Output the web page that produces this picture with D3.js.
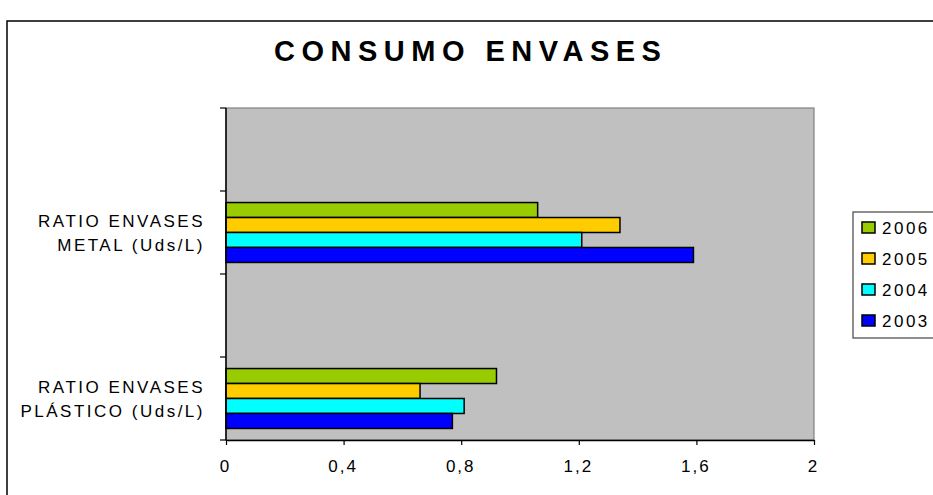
<!DOCTYPE html>
<html>
<head>
<meta charset="utf-8">
<script src="https://cdn.jsdelivr.net/npm/d3@7"></script>
<style>
  html, body { margin: 0; padding: 0; background: #fff; }
  svg { display: block; font-family: Arial, "Liberation Sans", sans-serif; }
</style>
</head>
<body>
<svg id="chart" width="933" height="495"></svg>
<script>
// Category rows, top to bottom (two empty rows as in the sheet)
const categoryLines = [
  [],
  ["RATIO ENVASES", "METAL  (Uds/L)"],
  [],
  ["RATIO ENVASES", "PLÁSTICO (Uds/L)"]
];
// Series, listed top to bottom inside each group
const years = ["2006", "2005", "2004", "2003"];
const seriesColors = ["#99CC00", "#FFCC00", "#00FFFF", "#0000FF"];
// Values per row (null = no data in that row)
const values2006 = [null, 1.06, null, 0.92];
const values2005 = [null, 1.34, null, 0.66];
const values2004 = [null, 1.21, null, 0.81];
const values2003 = [null, 1.59, null, 0.77];
const xTicks = [0, 0.4, 0.8, 1.2, 1.6, 2];
const xTickLabels = ["0", "0,4", "0,8", "1,2", "1,6", "2"];
const titleText = "CONSUMO ENVASES";

const seriesValues = [values2006, values2005, values2004, values2003];

const svg = d3.select("#chart");

// outer chart frame
svg.append("rect")
  .attr("x", 7).attr("y", 21).attr("width", 1000).attr("height", 1000)
  .attr("fill", "#fff").attr("stroke", "#000").attr("stroke-width", 1.5);

const plot = { left: 226, right: 814, top: 108, bottom: 440 };

const x = d3.scaleLinear().domain([0, 2]).range([plot.left, plot.right]);
const y = d3.scaleBand().domain(d3.range(categoryLines.length)).range([plot.top, plot.bottom]);
const yInner = d3.scaleBand().domain(years).range([0, y.bandwidth()])
  .paddingInner(0).paddingOuter(0.77);

// plot background
svg.append("rect")
  .attr("x", plot.left).attr("y", plot.top)
  .attr("width", plot.right - plot.left).attr("height", plot.bottom - plot.top)
  .attr("fill", "#C0C0C0").attr("stroke", "#808080").attr("stroke-width", 1.2);

// bars
const rows = [];
years.forEach((yr, si) => {
  seriesValues[si].forEach((v, ci) => {
    if (v != null) rows.push({ year: yr, cat: ci, value: v, color: seriesColors[si] });
  });
});
svg.append("g").selectAll("rect").data(rows).join("rect")
  .attr("x", x(0))
  .attr("y", d => y(d.cat) + yInner(d.year))
  .attr("width", d => x(d.value) - x(0))
  .attr("height", yInner.bandwidth())
  .attr("fill", d => d.color)
  .attr("stroke", "#000").attr("stroke-width", 1.5);

// x axis
const xAxis = svg.append("g")
  .attr("transform", `translate(0,${plot.bottom})`)
  .call(d3.axisBottom(x).tickValues(xTicks).tickFormat((d, i) => xTickLabels[i])
    .tickSize(5).tickSizeOuter(0).tickPadding(15));
xAxis.select(".domain").attr("stroke", "#000").attr("stroke-width", 1.5);
xAxis.selectAll(".tick line").attr("stroke", "#000").attr("stroke-width", 1.2);
xAxis.selectAll(".tick text")
  .attr("font-size", 17).attr("font-family", "Arial, 'Liberation Sans', sans-serif")
  .attr("fill", "#000").attr("letter-spacing", 2).attr("dx", -1);

// y axis: ticks at band boundaries, labels drawn separately
const yAxis = svg.append("g").attr("transform", `translate(${plot.left},0)`);
yAxis.append("line")
  .attr("x1", 0).attr("x2", 0).attr("y1", plot.top).attr("y2", plot.bottom)
  .attr("stroke", "#000").attr("stroke-width", 1.5);
const boundaries = d3.range(categoryLines.length + 1)
  .map(i => i < categoryLines.length ? y(i) : plot.bottom);
yAxis.selectAll("line.tk").data(boundaries).join("line")
  .attr("class", "tk")
  .attr("x1", -6).attr("x2", 0).attr("y1", d => d).attr("y2", d => d)
  .attr("stroke", "#000").attr("stroke-width", 1.2);

// category labels
const labelG = svg.append("g");
categoryLines.forEach((lines, ci) => {
  if (!lines.length) return;
  const cy = y(ci) + y.bandwidth() / 2;
  lines.forEach((ln, li) => {
    labelG.append("text")
      .attr("x", plot.left - 21)
      .attr("y", cy + (li - (lines.length - 1) / 2) * 24 + 6)
      .attr("text-anchor", "end")
      .attr("font-size", 17).attr("letter-spacing", 2.5)
      .attr("fill", "#000")
      .text(ln);
  });
});

// title
svg.append("text")
  .attr("x", 274).attr("y", 61)
  .attr("text-anchor", "start")
  .attr("font-size", 29).attr("font-weight", "bold").attr("letter-spacing", 6.5)
  .attr("fill", "#000")
  .text(titleText);

// legend
const legend = svg.append("g");
legend.append("rect")
  .attr("x", 853).attr("y", 212).attr("width", 200).attr("height", 126)
  .attr("fill", "#fff").attr("stroke", "#444").attr("stroke-width", 1.2);
const legendY = d3.scalePoint().domain(years).range([228, 321]);
years.forEach((yr, i) => {
  legend.append("rect")
    .attr("x", 862).attr("y", legendY(yr) - 6)
    .attr("width", 13).attr("height", 11)
    .attr("fill", seriesColors[i]).attr("stroke", "#000").attr("stroke-width", 1.5);
  legend.append("text")
    .attr("x", 882).attr("y", legendY(yr) + 6)
    .attr("font-size", 17).attr("letter-spacing", 2.5)
    .attr("fill", "#000")
    .text(yr);
});
</script>
</body>
</html>
